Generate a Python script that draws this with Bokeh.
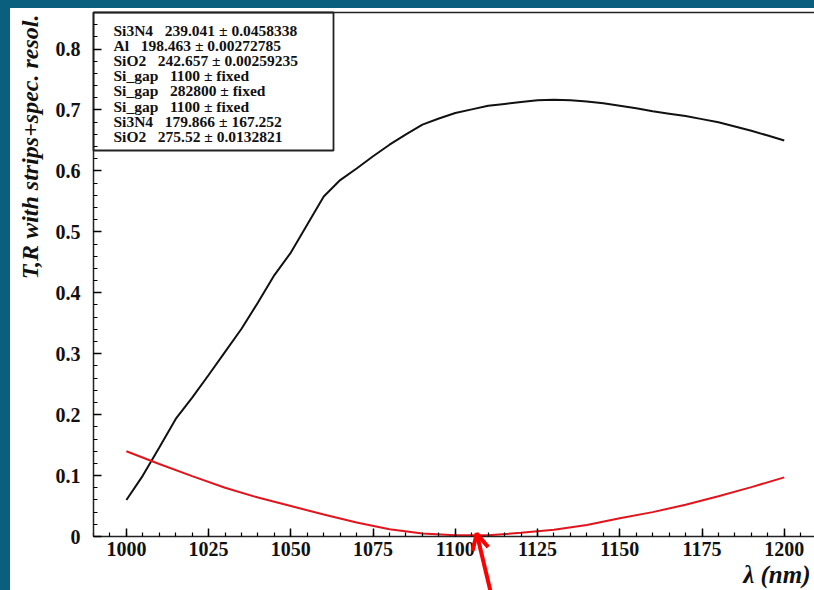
import math
from bokeh.plotting import figure
from bokeh.models import (ColumnDataSource, SingleIntervalTicker, LinearAxis, FixedTicker,
                          CustomJSTickFormatter, Label, Arrow, OpenHead, Spacer, Range1d)
from bokeh.layouts import row, column
from bokeh.core.properties import value
from bokeh.embed import file_html
from bokeh.resources import INLINE

# ---------------- data ----------------
wl_T = [1000, 1005, 1010, 1015, 1020, 1025, 1030, 1035, 1040, 1045, 1050, 1055, 1060, 1065,
        1070, 1075, 1080, 1085, 1090, 1095, 1100, 1105, 1110, 1115, 1120, 1125, 1130, 1135,
        1140, 1145, 1150, 1155, 1160, 1165, 1170, 1175, 1180, 1185, 1190, 1195, 1200]
T_vals = [0.060, 0.100, 0.146, 0.193, 0.228, 0.265, 0.303, 0.341, 0.384, 0.429, 0.466, 0.512,
          0.558, 0.585, 0.604, 0.624, 0.643, 0.660, 0.676, 0.686, 0.695, 0.701, 0.707, 0.710,
          0.713, 0.716, 0.717, 0.716, 0.714, 0.711, 0.707, 0.703, 0.698, 0.694, 0.690, 0.685,
          0.680, 0.673, 0.666, 0.658, 0.650]

wl_R = [1000, 1010, 1020, 1030, 1040, 1050, 1060, 1070, 1080, 1090, 1100, 1110, 1120, 1130,
        1140, 1150, 1160, 1170, 1180, 1190, 1200]
R_vals = [0.140, 0.119, 0.099, 0.080, 0.064, 0.050, 0.036, 0.023, 0.012, 0.005, 0.002, 0.002,
          0.006, 0.011, 0.019, 0.030, 0.040, 0.052, 0.066, 0.081, 0.097]

stat_names = ["Si3N4", "Al", "SiO2", "Si_gap", "Si_gap", "Si_gap", "Si3N4", "SiO2"]
stat_values = ["239.041 \u00b1 0.0458338", "198.463 \u00b1 0.00272785", "242.657 \u00b1 0.00259235",
               "1100 \u00b1 fixed", "282800 \u00b1 fixed", "1100 \u00b1 fixed",
               "179.866 \u00b1 167.252", "275.52 \u00b1 0.0132821"]

x_title = "\u03bb (nm)"
y_title = "T,R with strips+spec. resol."
arrow_target = (1106.5, 0.005)

# ---------------- geometry ----------------
TEAL = "#0b5f7e"
SERIF = "Liberation Serif"
AX_X0, AX_X1 = 990.0, 1209.2      # x-axis extent
AX_Y0, AX_Y1 = 0.0, 0.86          # y-axis extent
# window pixels of the axes box
frame_left_px, frame_right_px = 93, 814
frame_top_px, frame_bottom_px = 12, 536
FIG_LEFT_PX, FIG_TOP_PX = 10, 8
FW, FH = 804, 582

def px_x(px):
    return AX_X0 + (px - frame_left_px) * (AX_X1 - AX_X0) / (frame_right_px - frame_left_px)
def px_y(py):
    return AX_Y0 + (frame_bottom_px - py) * (AX_Y1 - AX_Y0) / (frame_bottom_px - frame_top_px)

p = figure(width=FW, height=FH, output_backend="svg", toolbar_location=None,
           x_range=Range1d(px_x(FIG_LEFT_PX), px_x(FIG_LEFT_PX + FW)),
           y_range=Range1d(px_y(FIG_TOP_PX + FH), px_y(FIG_TOP_PX)),
           min_border=0, min_border_left=0, min_border_right=0,
           min_border_top=0, min_border_bottom=0)
p.outline_line_color = None
p.xgrid.visible = False
p.ygrid.visible = False
p.background_fill_color = "white"
p.border_fill_color = "white"

for ax in (p.xaxis[0], p.yaxis[0]):
    ax.major_tick_in = 8
    ax.major_tick_out = 0
    ax.minor_tick_in = 4
    ax.minor_tick_out = 0
    ax.axis_line_width = 1.5
    ax.axis_line_color = "#222222"
    ax.major_tick_line_width = 1.5
    ax.minor_tick_line_width = 1.2
    ax.major_label_text_font = SERIF
    ax.major_label_text_font_style = "bold"
    ax.major_label_text_font_size = "20px"
    ax.major_label_text_color = "#111111"

p.xaxis[0].fixed_location = AX_Y0
p.xaxis[0].bounds = (AX_X0, AX_X1)
p.xaxis[0].ticker = SingleIntervalTicker(interval=25, num_minor_ticks=5)
p.xaxis[0].major_label_standoff = 5

p.yaxis[0].fixed_location = AX_X0
p.yaxis[0].bounds = (AX_Y0, AX_Y1)
p.yaxis[0].ticker = SingleIntervalTicker(interval=0.1, num_minor_ticks=5)
p.yaxis[0].major_label_standoff = 13
p.yaxis[0].formatter = CustomJSTickFormatter(
    code="return Math.abs(tick) < 1e-9 ? '0' : tick.toFixed(1);")

top_axis = LinearAxis(ticker=FixedTicker(ticks=[]), major_label_text_font_size="0px",
                      fixed_location=AX_Y1, bounds=(AX_X0, AX_X1),
                      major_label_standoff=0, axis_line_width=1.5, axis_line_color="#222222",
                      major_tick_in=0, major_tick_out=0, minor_tick_in=0, minor_tick_out=0)
p.add_layout(top_axis, "above")

# stats box
box_src = ColumnDataSource(dict(left=[AX_X0], right=[px_x(333)], top=[AX_Y1], bottom=[px_y(150)]))
p.quad(left="left", right="right", top="top", bottom="bottom", source=box_src,
       fill_color="white", line_color="#222222", line_width=1.8)

line_y = [px_y(30 + 15.1 * i) for i in range(len(stat_names))]
stat_text = [f"{n}\u00a0\u00a0\u00a0{v}" for n, v in zip(stat_names, stat_values)]
txt_src = ColumnDataSource(dict(x=[px_x(113)] * len(stat_text), y=line_y, t=stat_text))
p.text(x="x", y="y", text="t", source=txt_src, text_font=value(SERIF),
       text_font_style="bold", text_font_size="15.5px", text_baseline="middle",
       text_color="#111111")

# curves
p.line(wl_T, T_vals, line_color="#111111", line_width=2)
p.line(wl_R, R_vals, line_color="#e3141c", line_width=2)

# titles
p.add_layout(Label(x=px_x(29), y=px_y(14), text=y_title, angle=math.pi / 2,
                   text_align="right", text_baseline="middle", text_font=SERIF,
                   text_font_style="bold italic", text_font_size="24px", text_color="#111111"))
p.add_layout(Label(x=px_x(810), y=px_y(574), text=x_title, text_align="right",
                   text_baseline="middle", text_font=SERIF, text_font_style="bold italic",
                   text_font_size="25px", text_color="#111111"))

# red arrow
p.add_layout(Arrow(end=OpenHead(size=16, line_color="#ff0000", line_width=4),
                   x_start=px_x(491), y_start=px_y(595),
                   x_end=arrow_target[0], y_end=arrow_target[1],
                   line_color="#ff0000", line_width=4))

left_band = Spacer(width=10, height=590, styles={"background-color": TEAL})
top_band = Spacer(width=FW, height=8, styles={"background-color": TEAL})
layout = row(left_band, column(top_band, p, spacing=0), spacing=0)

open("out.html", "w").write(file_html(layout, INLINE))
